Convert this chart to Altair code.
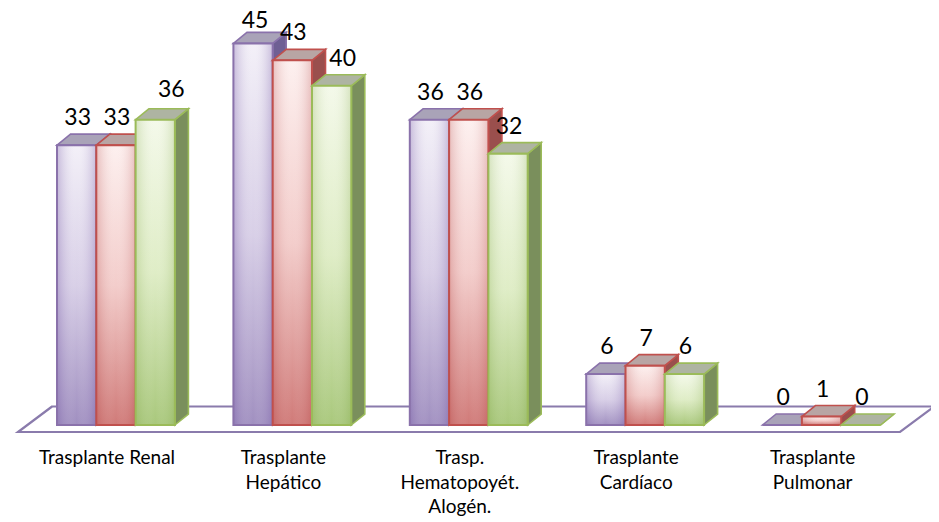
import altair as alt
import pandas as pd

categories = ["Trasplante Renal", "Trasplante\nHepático", "Trasp.\nHematopoyét.\nAlogén.",
              "Trasplante\nCardíaco", "Trasplante\nPulmonar"]
series_a = [33, 45, 36, 6, 0]
series_b = [33, 43, 36, 7, 1]
series_c = [36, 40, 32, 6, 0]

W, H = 923, 510
PX_X, PX_Y = 176.4, 8.48          # scale factors: pixels per group, pixels per unit
ORIGIN_X, ORIGIN_Y = 49.0, 417.0  # where group 0 / value 0 falls
BAR = 39.3 / PX_X
DX, DY = 13.5 / PX_X, 11.0 / PX_Y

xs = alt.Scale(domain=[-ORIGIN_X / PX_X, (W - ORIGIN_X) / PX_X], nice=False, zero=False)
ys = alt.Scale(domain=[-(H - ORIGIN_Y) / PX_Y, ORIGIN_Y / PX_Y], nice=False, zero=False)


def grad(stops, horizontal=False):
    n = len(stops) - 1
    return alt.LinearGradient(
        gradient="linear",
        x1=0, y1=0, x2=1 if horizontal else 0, y2=0 if horizontal else 1,
        stops=[alt.GradientStop(color=c, offset=i / n) for i, c in enumerate(stops)],
    )


styles = [
    dict(stroke="#8a72ab", side="#6f5f94", top="#a9a3b8",
         front=["#f3f0f8", "#d8cfe7", "#a08fc0"], edge="rgba(110,80,160,0.32)"),
    dict(stroke="#c0504d", side="#9a4f4d", top="#b8a5a4",
         front=["#fdf0ef", "#f3cdcb", "#d07a78"], edge="rgba(170,50,50,0.25)"),
    dict(stroke="#9bbb59", side="#7a8f5c", top="#aeb4a2",
         front=["#f4f9ea", "#dfedc6", "#a9c87c"], edge="rgba(120,160,60,0.25)"),
]
values = [series_a, series_b, series_c]

# small nudges for labels that sit off their bar: (series, group) -> (px right, px up)
label_nudge = {(2, 0): (15, 3), (2, 1): (10, 0), (0, 1): (1, -5)}


def X(name):
    return alt.X(f"{name}:Q", scale=xs, axis=None)


def Y(name):
    return alt.Y(f"{name}:Q", scale=ys, axis=None)


layers = []

floor = pd.DataFrame({"y": [-7 / PX_Y, 18.5 / PX_Y],
                      "x": [-0.221, -0.028], "x2": [4.779, 4.972]})
layers.append(
    alt.Chart(floor).mark_area(orient="horizontal", fill="white", stroke="#8a7bac", strokeWidth=2.2)
    .encode(y=Y("y"), x=X("x"), x2=alt.X2("x2"))
)

for s, vals in enumerate(values):
    st = styles[s]
    front, side, top = [], [], []
    for g, v in enumerate(vals):
        l = g + s * BAR
        r = l + BAR
        front.append(dict(l=l, r=r, v=v, b=0))
        side += [dict(id=g, x=r, lo=0, hi=v), dict(id=g, x=r + DX, lo=DY, hi=v + DY)]
        top += [dict(id=g, y=v, a=l, b=r), dict(id=g, y=v + DY, a=l + DX, b=r + DX)]
    fdf, sdf, tdf = pd.DataFrame(front), pd.DataFrame(side), pd.DataFrame(top)
    layers.append(
        alt.Chart(sdf).mark_area(fill=st["side"], stroke=st["stroke"], strokeWidth=1.6)
        .encode(x=X("x"), y=Y("lo"), y2=alt.Y2("hi"), detail="id:N")
    )
    layers.append(
        alt.Chart(tdf).mark_area(orient="horizontal", fill=st["top"], stroke=st["stroke"], strokeWidth=1.6)
        .encode(y=Y("y"), x=X("a"), x2=alt.X2("b"), detail="id:N")
    )
    layers.append(
        alt.Chart(fdf).mark_rect(fill=grad(st["front"]))
        .encode(x=X("l"), x2=alt.X2("r"), y=Y("b"), y2=alt.Y2("v"))
    )
    layers.append(
        alt.Chart(fdf).mark_rect(
            fill=grad([st["edge"], "rgba(255,255,255,0)", st["edge"]], horizontal=True),
            stroke=st["stroke"], strokeWidth=2,
        ).encode(x=X("l"), x2=alt.X2("r"), y=Y("b"), y2=alt.Y2("v"))
    )

labels = []
for s, vals in enumerate(values):
    for g, v in enumerate(vals):
        nx, ny = label_nudge.get((s, g), (0, 0))
        labels.append(dict(
            x=g + s * BAR + BAR / 2 + (1 + nx) / PX_X,
            y=v + (27 + ny) / PX_Y,
            t=str(v),
        ))
layers.append(
    alt.Chart(pd.DataFrame(labels)).mark_text(font="Lato", fontSize=23, color="#000000", baseline="middle")
    .encode(x=X("x"), y=Y("y"), text="t:N")
)

cats = pd.DataFrame({"x": [g + 50 / PX_X for g in range(len(categories))],
                     "y": [-24 / PX_Y] * len(categories),
                     "t": categories})
layers.append(
    alt.Chart(cats).mark_text(font="Lato", fontSize=19, color="#000000", baseline="top",
                              lineBreak="\n", lineHeight=24.5)
    .encode(x=X("x"), y=Y("y"), text="t:N")
)

chart = alt.layer(*layers).properties(
    width=W, height=H, padding=0, autosize=alt.AutoSizeParams(type="none")
).configure_view(stroke=None)

chart.save("out.html", embed_options={"renderer": "svg", "actions": False})
